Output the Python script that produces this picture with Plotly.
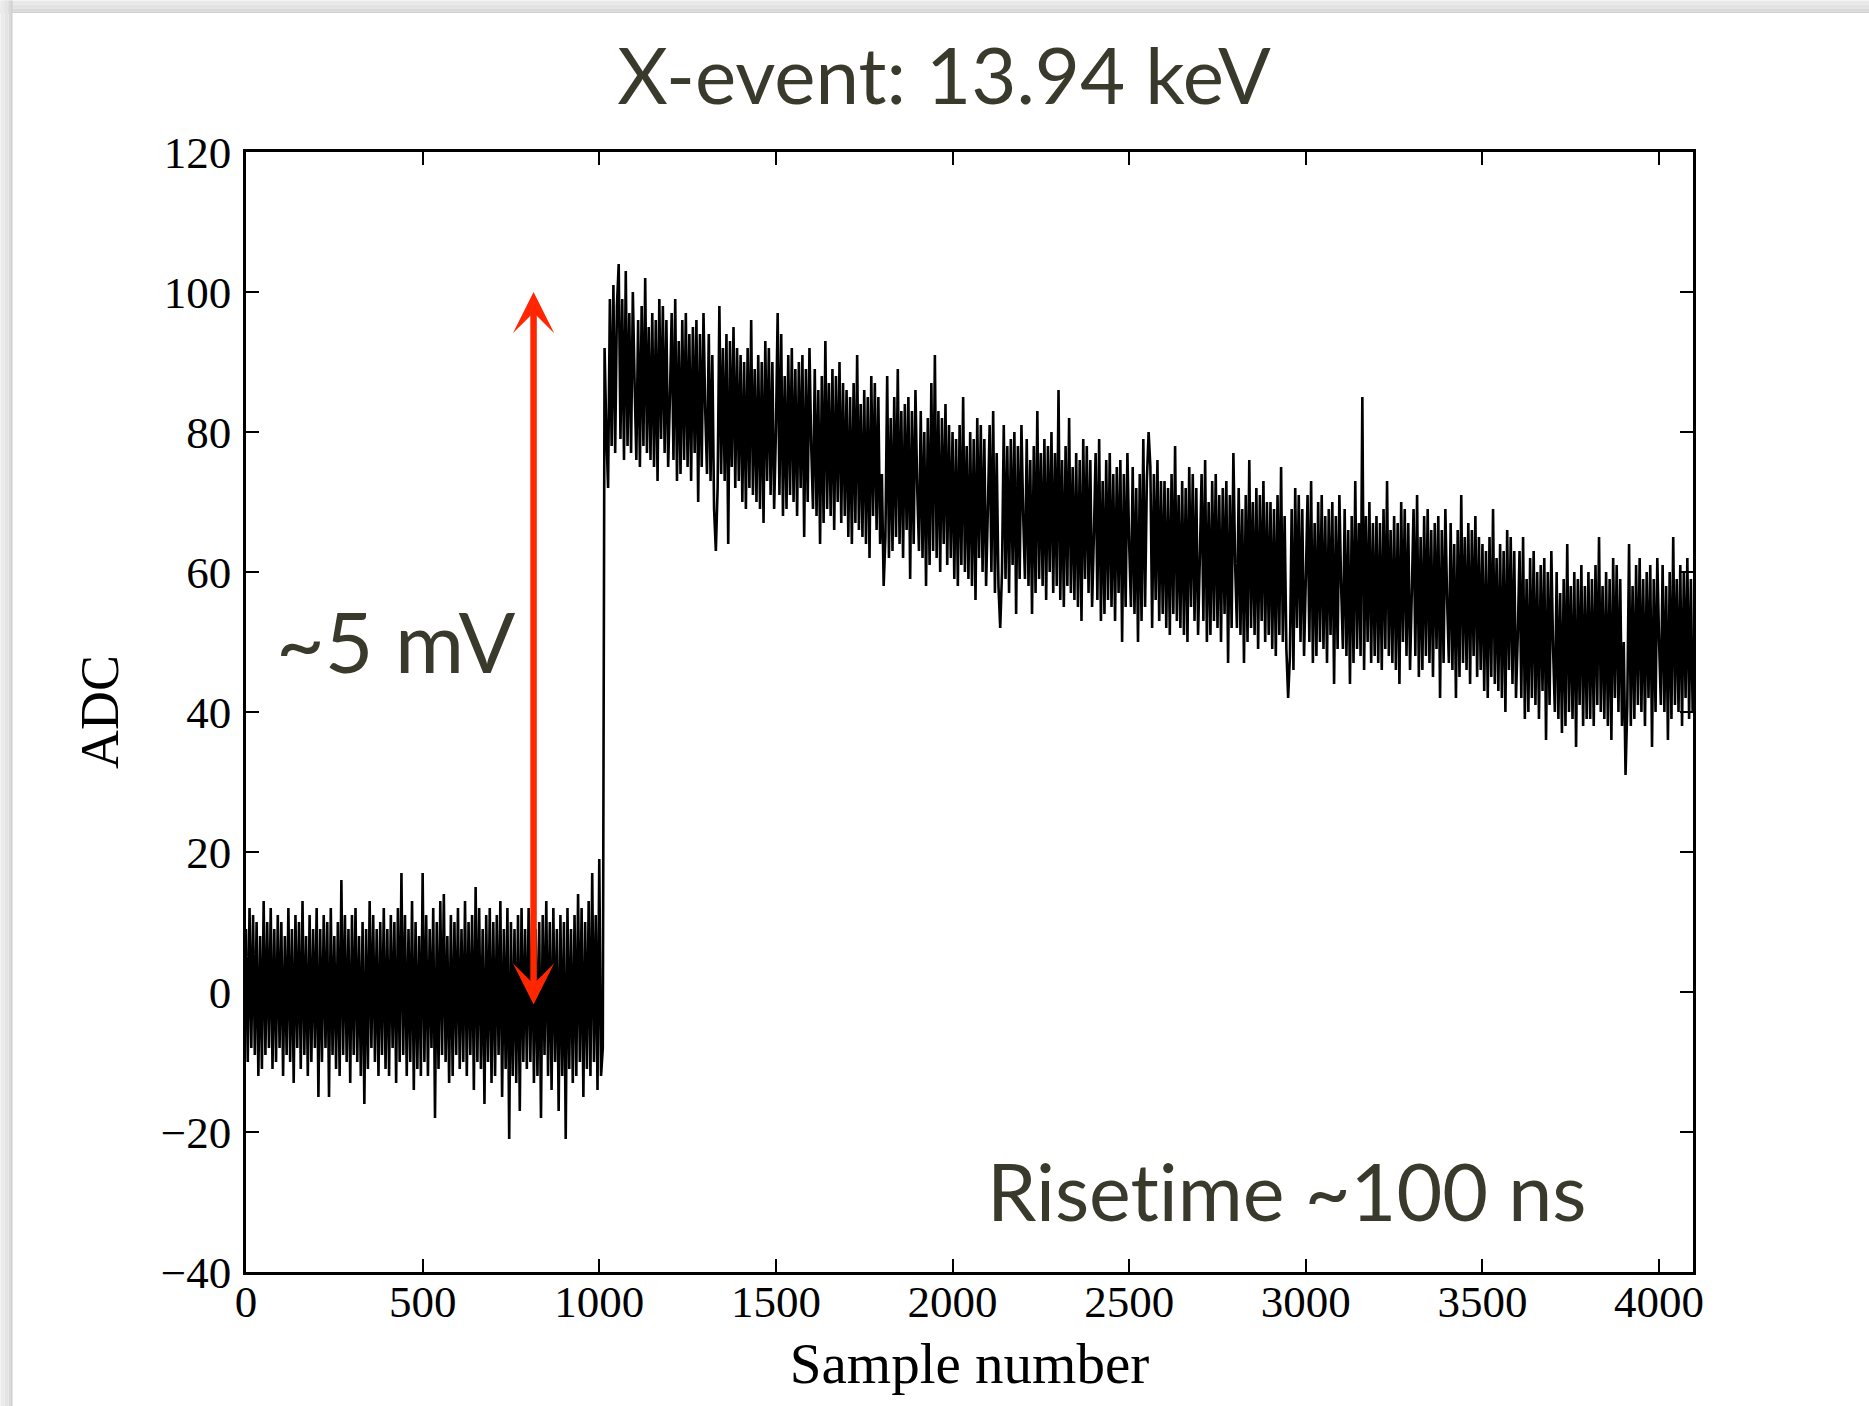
import plotly.graph_objects as go

# ---- data (one value every 5 samples) ----
sample_step = 5
pre_trigger = [
    9, -10, 12, -8, 11, -9, 10, -12, 8, -11, 13, -9, 10, -8, 12, -11, 9, -10, 11, -8,
    10, -12, 8, -9, 12, -10, 9, -13, 11, -8, 10, -11, 13, -9, 8, -12, 11, -10, 9, -8,
    12, -15, 9, -10, 11, -8, 10, -15, 12, -9, 8, -11, 10, -12, 16, -9, 11, -10, 9, -13,
    11, -9, 12, -10, 8, -12, 10, -16, 9, -11, 13, -8, 11, -10, 9, -12, 10, -9, 12, -11,
    9, -12, 11, -8, 10, -13, 12, -10, 17, -9, 11, -12, 9, -10, 13, -14, 10, -11, 8, -12,
    17, -10, 11, -12, 9, -8, 12, -18, 10, -11, 13, -9, 14, -10, 8, -13, 11, -12, 10, -9,
    12, -11, 9, -10, 13, -12, 10, -9, 11, -14, 15, -10, 12, -11, 9, -16, 11, -10, 12, -13,
    10, -12, 11, -9, 13, -15, 9, -11, 12, -21, 10, -12, 9, -13, 11, -17, 12, -10, 9, -11,
    12, -10, 11, -13, 9, -12, 10, -18, 11, -9, 13, -12, 10, -14, 12, -10, 9, -17, 11, -12,
    10, -21, 12, -11, 9, -13, 11, -12, 14, -10, 12, -15, 10, -11, 13, -12, 17, -10, 11, -14,
    19, -12, -8]
post_trigger = [
    92, 80, 72, 99, 78, 101, 77, 98, 104, 79, 99, 76, 103, 78, 97, 77, 100,
    87, 76, 96, 75, 98, 78, 102, 77, 95, 76, 97, 75, 96, 73, 99, 79, 98, 77, 96, 75,
    85, 97, 76, 99, 73, 93, 74, 96, 76, 97, 75, 94, 73, 95, 77, 96, 70, 94, 75, 97,
    83, 74, 94, 73, 91, 69, 63, 72, 98, 74, 92, 73, 94, 64, 93, 75, 95, 72, 92, 73,
    91, 70, 90, 69, 92, 72, 96, 71, 89, 70, 91, 69, 90, 67, 93, 73, 92, 71, 90, 69,
    80, 97, 71, 94, 68, 88, 69, 91, 71, 92, 70, 89, 68, 90, 72, 91, 65, 89, 70, 92,
    78, 69, 89, 68, 86, 64, 88, 67, 93, 69, 87, 68, 89, 66, 88, 70, 90, 67, 87, 68,
    86, 65, 85, 64, 87, 67, 91, 66, 84, 65, 86, 64, 85, 62, 88, 68, 87, 66, 85, 64,
    74, 58, 65, 88, 62, 82, 63, 85, 65, 89, 64, 83, 62, 84, 66, 85, 59, 83, 64, 86,
    72, 63, 83, 62, 80, 58, 82, 61, 87, 63, 91, 62, 83, 60, 82, 64, 84, 61, 81, 62,
    80, 59, 79, 58, 81, 61, 85, 60, 78, 59, 80, 58, 79, 56, 82, 62, 81, 60, 79, 58,
    69, 81, 60, 83, 57, 77, 58, 52, 60, 81, 59, 78, 57, 79, 61, 80, 54, 78, 59, 81,
    68, 59, 79, 58, 76, 54, 78, 57, 83, 59, 77, 58, 79, 56, 78, 60, 80, 57, 77, 58,
    86, 56, 76, 55, 78, 58, 82, 57, 75, 56, 77, 55, 76, 53, 79, 59, 78, 57, 76, 55,
    65, 77, 56, 79, 53, 73, 54, 76, 56, 77, 55, 74, 53, 75, 57, 76, 50, 74, 55, 77,
    64, 55, 75, 54, 72, 50, 74, 53, 79, 55, 73, 80, 75, 52, 74, 56, 76, 53, 73, 54,
    73, 52, 72, 51, 74, 54, 78, 53, 71, 52, 73, 51, 72, 50, 75, 55, 74, 53, 72, 51,
    62, 74, 53, 76, 50, 70, 51, 73, 53, 74, 52, 71, 50, 72, 54, 73, 47, 71, 52, 77,
    61, 52, 72, 51, 69, 47, 71, 50, 76, 52, 70, 51, 72, 49, 71, 53, 73, 50, 70, 51,
    70, 49, 69, 48, 71, 51, 75, 50, 68, 49, 42, 48, 69, 46, 72, 52, 71, 50, 69, 48,
    59, 71, 50, 73, 47, 67, 48, 70, 50, 71, 49, 68, 47, 69, 51, 70, 44, 68, 49, 71,
    58, 49, 69, 48, 66, 44, 68, 47, 73, 49, 67, 48, 85, 46, 68, 50, 70, 47, 67, 48,
    68, 47, 67, 46, 69, 49, 73, 48, 66, 47, 68, 46, 67, 44, 70, 50, 69, 48, 67, 46,
    57, 69, 48, 71, 45, 65, 46, 68, 48, 69, 47, 66, 45, 67, 49, 68, 42, 66, 47, 69,
    56, 47, 67, 46, 64, 42, 66, 45, 71, 47, 65, 46, 67, 44, 66, 48, 68, 45, 65, 46,
    64, 43, 63, 42, 65, 45, 69, 44, 62, 43, 64, 42, 63, 40, 66, 46, 65, 44, 63, 42,
    51, 63, 42, 65, 39, 59, 40, 62, 42, 63, 41, 60, 39, 61, 43, 62, 36, 60, 41, 63,
    49, 40, 60, 39, 57, 37, 59, 38, 64, 40, 58, 39, 60, 35, 59, 41, 61, 38, 58, 39,
    60, 39, 59, 38, 61, 41, 65, 40, 58, 39, 60, 38, 59, 36, 62, 42, 61, 40, 59, 38,
    50, 31, 41, 64, 38, 58, 39, 61, 41, 62, 40, 59, 38, 60, 42, 61, 35, 59, 40, 62,
    50, 41, 61, 40, 58, 36, 60, 39, 65, 41, 59, 40, 61, 38, 60, 42, 62, 39, 59, 40]
adc_values = pre_trigger + post_trigger
sample_numbers = [i * sample_step for i in range(len(adc_values))]

x_ticks = [0, 500, 1000, 1500, 2000, 2500, 3000, 3500, 4000]
y_ticks = [-40, -20, 0, 20, 40, 60, 80, 100, 120]
x_range = [0, 4096]
y_range = [-40, 120]

title_text = "X-event: 13.94 keV"
amp_label = "~5 mV"
rise_label = "Risetime ~100 ns"
arrow_x = 814
arrow_top = 100
arrow_bottom = -2

# ---- layout geometry (page pixels) ----
W, H = 1869, 1406
ML, MR, MT, MB = 245.5, 176.4, 151.5, 134
PW = W - ML - MR
PH = H - MT - MB

TEXT_COL = "rgb(58,58,44)"
SANS = "Lato, 'Open Sans', sans-serif"
SERIF = "'Liberation Serif', 'DejaVu Serif', serif"

fig = go.Figure()
fig.add_trace(go.Scatter(
    x=sample_numbers, y=adc_values, mode="lines",
    line=dict(color="black", width=2.6, simplify=False),
    hoverinfo="skip", showlegend=False))

axis_common = dict(
    showgrid=False, zeroline=False, showline=True, linecolor="black",
    linewidth=2.5, mirror="allticks", ticks="inside", ticklen=13,
    tickwidth=1.6, tickcolor="black",
    tickfont=dict(family=SERIF, size=45, color="black"))

fig.update_xaxes(range=x_range, tickvals=x_ticks, **axis_common,
                 ticklabelstandoff=-12,
                 title=dict(text="Sample number",
                            font=dict(family=SERIF, size=57, color="black"),
                            standoff=18))
fig.update_yaxes(range=y_range, tickvals=y_ticks, **axis_common,
                 ticklabelstandoff=3,
                 title=dict(text="ADC",
                            font=dict(family=SERIF, size=54, color="black"),
                            standoff=25))

fig.add_annotation(x=arrow_x, y=arrow_top, ax=arrow_x, ay=arrow_bottom,
                   xref="x", yref="y", axref="x", ayref="y", text="",
                   showarrow=True, arrowhead=3, startarrowhead=3,
                   arrowside="end+start", arrowwidth=6.5, arrowsize=1.06,
                   startarrowsize=1.06, arrowcolor="#ff2600",
                   standoff=0, startstandoff=0)
fig.add_annotation(x=425, y=50.2, xref="x", yref="y", text=amp_label,
                   showarrow=False, xanchor="center", yanchor="middle",
                   font=dict(family=SANS, size=84, color=TEXT_COL))
fig.add_annotation(x=2948, y=-28.4, xref="x", yref="y",
                   text='<span style="font-variant-ligatures:none">' + rise_label + '</span>',
                   showarrow=False, xanchor="center", yanchor="middle",
                   font=dict(family=SANS, size=79, color=TEXT_COL))

# slide frame shadow (top and left gray bands), paper coords from pixels
def px_x(p):
    return (p - ML) / PW

def px_y(p):
    return 1 - (p - MT) / PH

shapes = []
top_band = [(0, 4, "#e9e9e9"), (4, 8, "#e3e3e3"), (8, 11, "#d9d9d9"), (11, 12.5, "#cfcfcf")]
for y0, y1, c in top_band:
    shapes.append(dict(type="rect", xref="paper", yref="paper",
                       x0=px_x(0), x1=px_x(W), y0=px_y(y0), y1=px_y(y1),
                       fillcolor=c, line=dict(width=0), layer="above"))
left_band = [(0, 4, "#ebebeb"), (4, 8, "#e4e4e4"), (8, 10.5, "#dadada"), (10.5, 12, "#cfcfcf")]
for x0, x1, c in left_band:
    shapes.append(dict(type="rect", xref="paper", yref="paper",
                       x0=px_x(x0), x1=px_x(x1), y0=px_y(0), y1=px_y(H),
                       fillcolor=c, line=dict(width=0), layer="above"))

fig.update_layout(
    width=W, height=H,
    margin=dict(l=ML, r=MR, t=MT, b=MB, pad=0),
    paper_bgcolor="white", plot_bgcolor="white",
    title=dict(text=title_text, xref="container", yref="container",
               x=944 / W, y=1 - 77 / H, xanchor="center", yanchor="middle",
               font=dict(family=SANS, size=78, color=TEXT_COL)),
    shapes=shapes,
    showlegend=False,
)

fig.write_html("out.html", config={"displayModeBar": False},
               post_script="document.body.style.margin='0';document.body.style.overflow='hidden';")
